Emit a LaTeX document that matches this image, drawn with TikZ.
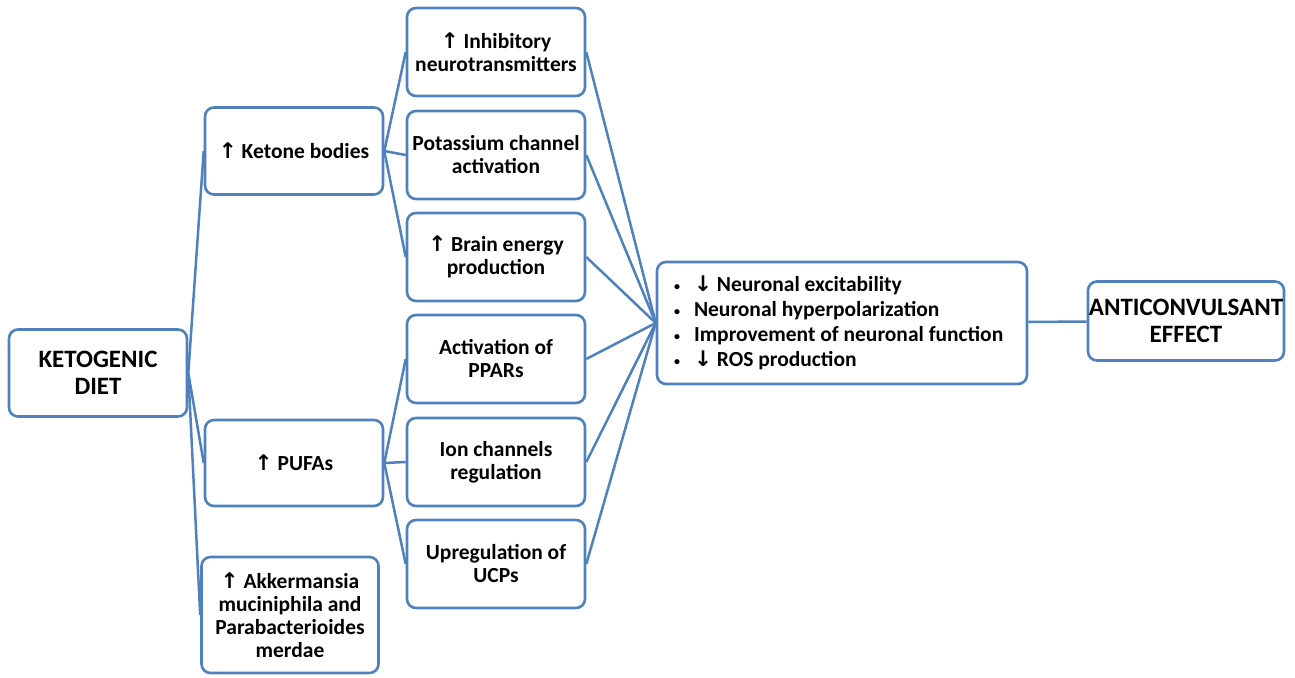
\documentclass[tikz,border=0pt]{standalone}
\usepackage{fontspec}
\setmainfont{Carlito}
\newfontfamily\arrfont{DejaVu Sans}
\usepackage{tikz}
\usetikzlibrary{positioning}
\definecolor{kdblue}{HTML}{4F81BD}
\newcommand{\up}{{\arrfont\bfseries\char"2191}}
\newcommand{\down}{{\arrfont\bfseries\char"2193}}
\newcommand{\blt}{\hspace*{10pt}\makebox[20pt][l]{\raisebox{1pt}{\fontsize{12}{12}\selectfont\textbullet}}}

\begin{document}
\begin{tikzpicture}[
  x=1pt, y=-1pt,
  font=\fontsize{21.5}{23}\selectfont\bfseries,
  box/.style={draw=kdblue, line width=2.6pt, rounded corners=9pt, fill=white,
              minimum width=178pt, minimum height=88pt, align=center, inner sep=1pt},
  big/.style={box, font=\fontsize{25}{27}\selectfont\bfseries},
  lk/.style={kdblue, line width=2.5pt},
]
\useasboundingbox (0,0) rectangle (1295,677);
% Diet
\node[big, minimum height=87pt] (kd) at (98,373) {KETOGENIC\\DIET};
% Mediators
\node[box, minimum height=87pt] (ket) at (294,151) {\up{} Ketone bodies};
\node[box, minimum height=86pt] (pufa) at (294,463) {\up{} PUFAs};
\node[box, minimum width=177pt, minimum height=116pt] (akk) at (290,615)
  {\up{} Akkermansia\\muciniphila and\\Parabacterioides\\merdae};
% Mechanisms
\node[box] (inh) at (496,52) {\up{} Inhibitory\\neurotransmitters};
\node[box] (pot) at (496,155) {Potassium channel\\activation};
\node[box] (bra) at (496,257) {\up{} Brain energy\\production};
\node[box] (ppar) at (496,359) {Activation of\\PPARs};
\node[box] (ion) at (496,462) {Ion channels\\regulation};
\node[box] (ucp) at (496,564) {Upregulation of\\UCPs};
% Effects
\node[box, align=flush left, text width=356pt, inner xsep=7pt, minimum height=122pt,
      font=\fontsize{21.5}{25}\selectfont\bfseries] (eff) at (842,323)
  {\blt\down{} Neuronal excitability\\
   \blt Neuronal hyperpolarization\\
   \blt Improvement of neuronal function\\
   \blt\down{} ROS production};
\node[big, minimum width=196pt, minimum height=79pt, inner sep=0pt] (anti) at (1186,321)
  {ANTICONVULSANT\\EFFECT};
% Connectors
\foreach \t in {ket,pufa,akk}
  \draw[lk] (kd.east) -- (\t.west);
\foreach \t in {inh,pot,bra}
  \draw[lk] (ket.east) -- (\t.west);
\foreach \t in {ppar,ion,ucp}
  \draw[lk] (pufa.east) -- (\t.west);
\foreach \s in {inh,pot,bra,ppar,ion,ucp}
  \draw[lk] (\s.east) -- (eff.west);
\draw[lk] (eff) -- (anti);
\end{tikzpicture}
\end{document}
